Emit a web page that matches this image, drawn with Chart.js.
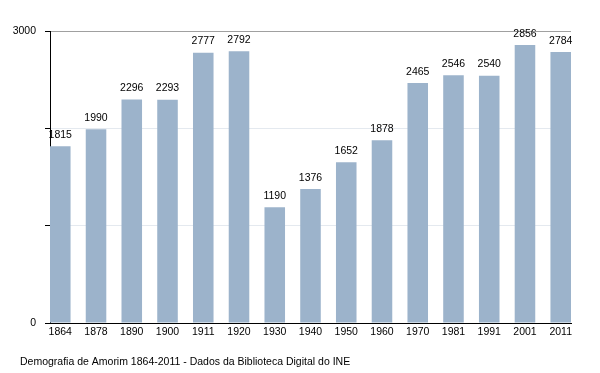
<!DOCTYPE html>
<html>
<head>
<meta charset="utf-8">
<script src="https://cdn.jsdelivr.net/npm/chart.js@4"></script>
<style>
html,body{margin:0;padding:0;background:#fff;}
#wrap{position:relative;width:600px;height:373px;}
</style>
</head>
<body>
<div id="wrap"><canvas id="c" width="600" height="373"></canvas></div>
<script>
const years = ['1864','1878','1890','1900','1911','1920','1930','1940','1950','1960','1970','1981','1991','2001','2011'];
const population = [1815,1990,2296,2293,2777,2792,1190,1376,1652,1878,2465,2546,2540,2856,2784];
const yTickLabels = {0:'0', 3000:'3000'};
const caption = 'Demografia de Amorim 1864-2011 - Dados da Biblioteca Digital do INE';

const FONT = 'Liberation Sans, Arial, sans-serif';
const FSIZE = 10.5;

const points = population.map((v, i) => ({x: i, y: v}));

const labelPlugin = {
  id: 'labels',
  afterDatasetsDraw(chart) {
    const ctx = chart.ctx;
    const meta = chart.getDatasetMeta(0);
    ctx.save();
    ctx.font = FSIZE + 'px ' + FONT;
    ctx.fillStyle = '#000';
    ctx.textAlign = 'center';
    ctx.textBaseline = 'bottom';
    meta.data.forEach((bar, i) => {
      ctx.fillText(String(population[i]), bar.x, bar.y - 6);
    });
    ctx.textAlign = 'left';
    ctx.textBaseline = 'middle';
    ctx.fillText(caption, 20, 362);
    ctx.restore();
  }
};

new Chart(document.getElementById('c'), {
  type: 'bar',
  data: {
    datasets: [{
      data: points,
      backgroundColor: '#9cb3cb',
      borderWidth: 0,
      barPercentage: 0.575,
      categoryPercentage: 1
    }]
  },
  options: {
    responsive: false,
    animation: false,
    layout: {padding: {left: 0, top: 31, right: 29, bottom: 0}},
    plugins: {legend: {display: false}, tooltip: {enabled: false}},
    scales: {
      x: {
        type: 'linear',
        offset: false,
        min: -0.2875,
        max: 14.2875,
        afterBuildTicks(scale) { scale.ticks = years.map((_, i) => ({value: i})); },
        afterFit(scale) { scale.height = 50; },
        grid: {offset: false, drawOnChartArea: false, drawTicks: false},
        border: {display: true, color: '#000', width: 1},
        ticks: {
          autoSkip: false, maxRotation: 0, padding: 3,
          color: '#000', font: {family: FONT, size: FSIZE},
          callback: (v) => years[v] !== undefined ? years[v] : ''
        }
      },
      y: {
        min: 0, max: 3000,
        afterFit(scale) { scale.width = 50; },
        grid: {
          color: (c) => c.tick && c.tick.value === 3000 ? '#a0a0a0' : (c.tick && c.tick.value === 0 ? 'rgba(0,0,0,0)' : '#e4e9ef'),
          tickColor: '#000',
          tickLength: 5
        },
        border: {display: true, color: '#000', width: 1},
        ticks: {
          stepSize: 1000, padding: 9,
          color: '#000', font: {family: FONT, size: FSIZE},
          callback: (v) => yTickLabels[v] !== undefined ? yTickLabels[v] : ''
        }
      }
    }
  },
  plugins: [labelPlugin]
});
</script>
</body>
</html>
